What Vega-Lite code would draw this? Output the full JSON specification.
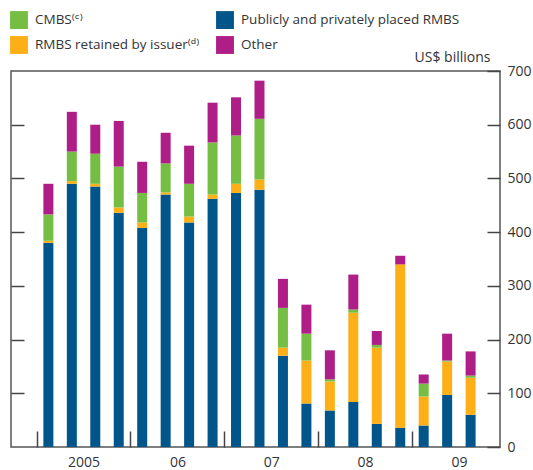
{
  "$schema": "https://vega.github.io/schema/vega-lite/v6.json",
  "width": 489,
  "height": 376,
  "autosize": {"type": "none"},
  "padding": {"left": 11, "top": 71, "right": 33, "bottom": 23},
  "background": "white",
  "config": {
    "font": "Open Sans",
    "view": {"stroke": "#555555", "strokeWidth": 1.5},
    "axis": {"domain": false, "tickColor": "#444444", "tickWidth": 1.5, "labelColor": "#333333", "labelFontSize": 14, "labelFont": "Open Sans", "grid": false}
  },
  "datasets": {
    "issuance": [
      {"t": 2005.125, "series": "Publicly and privately placed RMBS", "ord": 1, "value": 380},
      {"t": 2005.125, "series": "RMBS retained by issuer⁽ᵈ⁾", "ord": 2, "value": 4},
      {"t": 2005.125, "series": "CMBS⁽ᶜ⁾", "ord": 3, "value": 49},
      {"t": 2005.125, "series": "Other", "ord": 4, "value": 57},
      {"t": 2005.375, "series": "Publicly and privately placed RMBS", "ord": 1, "value": 490},
      {"t": 2005.375, "series": "RMBS retained by issuer⁽ᵈ⁾", "ord": 2, "value": 5},
      {"t": 2005.375, "series": "CMBS⁽ᶜ⁾", "ord": 3, "value": 55},
      {"t": 2005.375, "series": "Other", "ord": 4, "value": 74},
      {"t": 2005.625, "series": "Publicly and privately placed RMBS", "ord": 1, "value": 485},
      {"t": 2005.625, "series": "RMBS retained by issuer⁽ᵈ⁾", "ord": 2, "value": 5},
      {"t": 2005.625, "series": "CMBS⁽ᶜ⁾", "ord": 3, "value": 56},
      {"t": 2005.625, "series": "Other", "ord": 4, "value": 54},
      {"t": 2005.875, "series": "Publicly and privately placed RMBS", "ord": 1, "value": 436},
      {"t": 2005.875, "series": "RMBS retained by issuer⁽ᵈ⁾", "ord": 2, "value": 10},
      {"t": 2005.875, "series": "CMBS⁽ᶜ⁾", "ord": 3, "value": 76},
      {"t": 2005.875, "series": "Other", "ord": 4, "value": 85},
      {"t": 2006.125, "series": "Publicly and privately placed RMBS", "ord": 1, "value": 408},
      {"t": 2006.125, "series": "RMBS retained by issuer⁽ᵈ⁾", "ord": 2, "value": 10},
      {"t": 2006.125, "series": "CMBS⁽ᶜ⁾", "ord": 3, "value": 55},
      {"t": 2006.125, "series": "Other", "ord": 4, "value": 58},
      {"t": 2006.375, "series": "Publicly and privately placed RMBS", "ord": 1, "value": 470},
      {"t": 2006.375, "series": "RMBS retained by issuer⁽ᵈ⁾", "ord": 2, "value": 4},
      {"t": 2006.375, "series": "CMBS⁽ᶜ⁾", "ord": 3, "value": 54},
      {"t": 2006.375, "series": "Other", "ord": 4, "value": 57},
      {"t": 2006.625, "series": "Publicly and privately placed RMBS", "ord": 1, "value": 418},
      {"t": 2006.625, "series": "RMBS retained by issuer⁽ᵈ⁾", "ord": 2, "value": 11},
      {"t": 2006.625, "series": "CMBS⁽ᶜ⁾", "ord": 3, "value": 61},
      {"t": 2006.625, "series": "Other", "ord": 4, "value": 71},
      {"t": 2006.875, "series": "Publicly and privately placed RMBS", "ord": 1, "value": 462},
      {"t": 2006.875, "series": "RMBS retained by issuer⁽ᵈ⁾", "ord": 2, "value": 8},
      {"t": 2006.875, "series": "CMBS⁽ᶜ⁾", "ord": 3, "value": 97},
      {"t": 2006.875, "series": "Other", "ord": 4, "value": 74},
      {"t": 2007.125, "series": "Publicly and privately placed RMBS", "ord": 1, "value": 473},
      {"t": 2007.125, "series": "RMBS retained by issuer⁽ᵈ⁾", "ord": 2, "value": 17},
      {"t": 2007.125, "series": "CMBS⁽ᶜ⁾", "ord": 3, "value": 90},
      {"t": 2007.125, "series": "Other", "ord": 4, "value": 71},
      {"t": 2007.375, "series": "Publicly and privately placed RMBS", "ord": 1, "value": 479},
      {"t": 2007.375, "series": "RMBS retained by issuer⁽ᵈ⁾", "ord": 2, "value": 19},
      {"t": 2007.375, "series": "CMBS⁽ᶜ⁾", "ord": 3, "value": 113},
      {"t": 2007.375, "series": "Other", "ord": 4, "value": 71},
      {"t": 2007.625, "series": "Publicly and privately placed RMBS", "ord": 1, "value": 170},
      {"t": 2007.625, "series": "RMBS retained by issuer⁽ᵈ⁾", "ord": 2, "value": 15},
      {"t": 2007.625, "series": "CMBS⁽ᶜ⁾", "ord": 3, "value": 74},
      {"t": 2007.625, "series": "Other", "ord": 4, "value": 54},
      {"t": 2007.875, "series": "Publicly and privately placed RMBS", "ord": 1, "value": 81},
      {"t": 2007.875, "series": "RMBS retained by issuer⁽ᵈ⁾", "ord": 2, "value": 80},
      {"t": 2007.875, "series": "CMBS⁽ᶜ⁾", "ord": 3, "value": 50},
      {"t": 2007.875, "series": "Other", "ord": 4, "value": 54},
      {"t": 2008.125, "series": "Publicly and privately placed RMBS", "ord": 1, "value": 68},
      {"t": 2008.125, "series": "RMBS retained by issuer⁽ᵈ⁾", "ord": 2, "value": 54},
      {"t": 2008.125, "series": "CMBS⁽ᶜ⁾", "ord": 3, "value": 4},
      {"t": 2008.125, "series": "Other", "ord": 4, "value": 54},
      {"t": 2008.375, "series": "Publicly and privately placed RMBS", "ord": 1, "value": 84},
      {"t": 2008.375, "series": "RMBS retained by issuer⁽ᵈ⁾", "ord": 2, "value": 166},
      {"t": 2008.375, "series": "CMBS⁽ᶜ⁾", "ord": 3, "value": 6},
      {"t": 2008.375, "series": "Other", "ord": 4, "value": 65},
      {"t": 2008.625, "series": "Publicly and privately placed RMBS", "ord": 1, "value": 43},
      {"t": 2008.625, "series": "RMBS retained by issuer⁽ᵈ⁾", "ord": 2, "value": 142},
      {"t": 2008.625, "series": "CMBS⁽ᶜ⁾", "ord": 3, "value": 5},
      {"t": 2008.625, "series": "Other", "ord": 4, "value": 26},
      {"t": 2008.875, "series": "Publicly and privately placed RMBS", "ord": 1, "value": 36},
      {"t": 2008.875, "series": "RMBS retained by issuer⁽ᵈ⁾", "ord": 2, "value": 304},
      {"t": 2008.875, "series": "CMBS⁽ᶜ⁾", "ord": 3, "value": 0},
      {"t": 2008.875, "series": "Other", "ord": 4, "value": 16},
      {"t": 2009.125, "series": "Publicly and privately placed RMBS", "ord": 1, "value": 40},
      {"t": 2009.125, "series": "RMBS retained by issuer⁽ᵈ⁾", "ord": 2, "value": 54},
      {"t": 2009.125, "series": "CMBS⁽ᶜ⁾", "ord": 3, "value": 24},
      {"t": 2009.125, "series": "Other", "ord": 4, "value": 17},
      {"t": 2009.375, "series": "Publicly and privately placed RMBS", "ord": 1, "value": 97},
      {"t": 2009.375, "series": "RMBS retained by issuer⁽ᵈ⁾", "ord": 2, "value": 62},
      {"t": 2009.375, "series": "CMBS⁽ᶜ⁾", "ord": 3, "value": 2},
      {"t": 2009.375, "series": "Other", "ord": 4, "value": 50},
      {"t": 2009.625, "series": "Publicly and privately placed RMBS", "ord": 1, "value": 60},
      {"t": 2009.625, "series": "RMBS retained by issuer⁽ᵈ⁾", "ord": 2, "value": 69},
      {"t": 2009.625, "series": "CMBS⁽ᶜ⁾", "ord": 3, "value": 4},
      {"t": 2009.625, "series": "Other", "ord": 4, "value": 45}
    ]
  },
  "data": {"name": "issuance"},
  "layer": [
    {
      "mark": {"type": "bar", "size": 10},
      "encoding": {
        "x": {
          "field": "t",
          "type": "quantitative",
          "scale": {"domain": [2004.78, 2009.885], "nice": false, "zero": false},
          "axis": {
            "title": null,
            "values": [2005, 2005.5, 2006, 2006.5, 2007, 2007.5, 2008, 2008.5, 2009, 2009.5],
            "tickSize": -16,
            "tickOpacity": {"condition": {"test": "datum.value % 1 != 0", "value": 0}, "value": 1},
            "labelExpr": "datum.value % 1 == 0 ? '' : (datum.value < 2006 ? '2005' : '0' + (floor(datum.value) - 2000))",
            "labelPadding": 24,
            "labelFontSize": 14
          }
        },
        "y": {
          "field": "value",
          "type": "quantitative",
          "stack": "zero",
          "scale": {"domain": [0, 700], "nice": false},
          "axis": {
            "orient": "right",
            "values": [0, 100, 200, 300, 400, 500, 600, 700],
            "tickSize": -13,
            "labelPadding": 20,
            "labelAlign": "left",
            "title": "US$ billions",
            "titleAngle": 0,
            "titleAlign": "right",
            "titleBaseline": "middle",
            "titleX": -10,
            "titleY": -14,
            "titleFontSize": 14,
            "titleFontWeight": "normal",
            "titleColor": "#333333",
            "titleFont": "Open Sans"
          }
        },
        "color": {
          "field": "series",
          "type": "nominal",
          "scale": {
            "domain": ["CMBS⁽ᶜ⁾", "Publicly and privately placed RMBS", "RMBS retained by issuer⁽ᵈ⁾", "Other"],
            "range": ["#76BE43", "#00558A", "#FCAF17", "#AF1E87"]
          },
          "legend": {
            "title": null,
            "orient": "none",
            "legendX": -1,
            "legendY": -60,
            "columns": 2,
            "direction": "horizontal",
            "symbolType": "square",
            "symbolSize": 320,
            "symbolStrokeWidth": 0,
            "symbolOpacity": 1,
            "labelFontSize": 13.5,
            "labelColor": "#333333",
            "labelFont": "Open Sans, DejaVu Sans",
            "labelOffset": 7,
            "rowPadding": 7,
            "columnPadding": 16,
            "labelLimit": 400
          }
        },
        "order": {"field": "ord", "type": "quantitative"}
      }
    },
    {
      "mark": {"type": "rule", "opacity": 0},
      "encoding": {
        "y": {
          "field": "value",
          "type": "quantitative",
          "axis": {
            "orient": "left",
            "values": [100, 200, 300, 400, 500, 600],
            "tickSize": -13,
            "labels": false,
            "title": null
          }
        }
      }
    }
  ],
  "resolve": {"axis": {"y": "independent"}}
}
